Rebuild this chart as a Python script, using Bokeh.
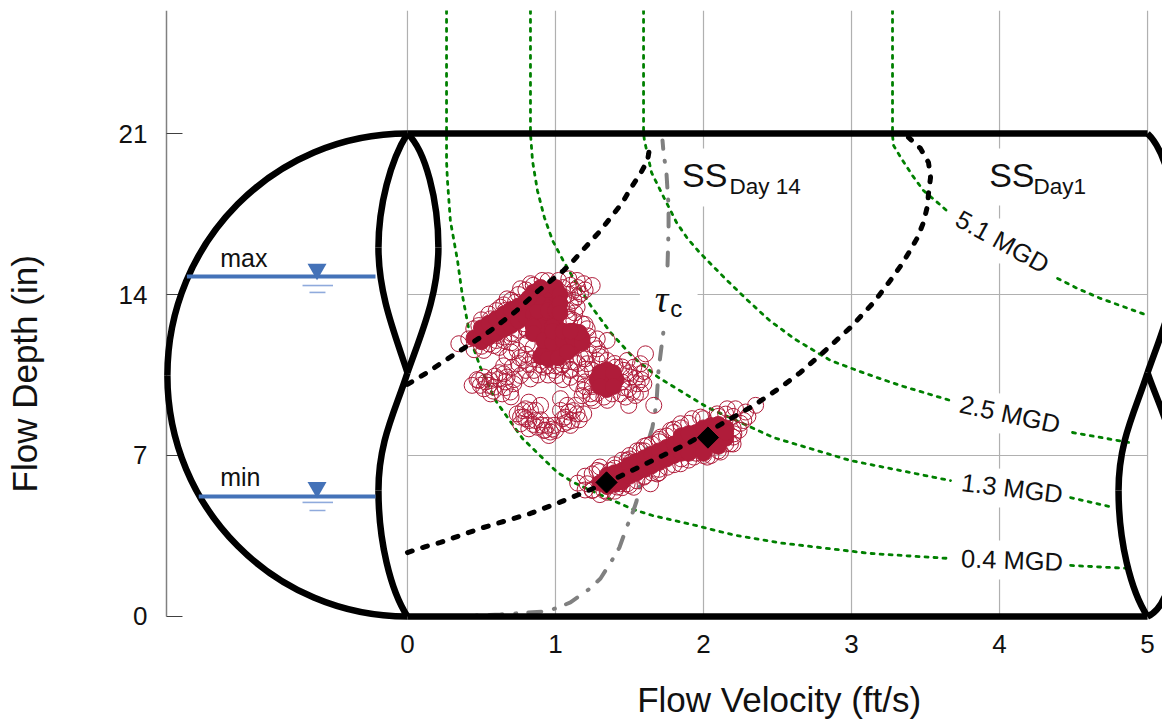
from bokeh.plotting import figure
from bokeh.embed import file_html
from bokeh.resources import INLINE
from bokeh.models import Range1d, FixedTicker, LinearAxis
from bokeh.core.properties import value
import math

FONT = "Liberation Sans"

x_ticks = [0, 1, 2, 3, 4, 5]
y_ticks = [0, 7, 14, 21]
x_lim = (-1.655, 5.101)
y_lim = (-0.174, 26.348)
axis_x = -1.628
tick_end_x = -1.52

# axis titles; the padding moves them from the frame centre to the centre of the 0-5 and 0-21 spans
x_title = "\u00a0" * 24 + "Flow Velocity (ft/s)"
y_title = "Flow Depth (in)" + "\u00a0" * 12

# vertical grid pieces (x, y from, y to): labels sit in the gaps
grid_v = [(0, 0, 26.35), (1, 0, 26.35), (2, 0, 17.83), (2, 20.35, 26.35), (3, 0, 26.35),
          (4, 0, 1.61), (4, 3.30, 4.74), (4, 6.43, 7.96), (4, 9.70, 15.35), (4, 17.30, 17.87), (4, 20.35, 26.35),
          (5, 0, 26.35)]
grid_h = [(0, 1.57, 14), (1.96, 5, 14), (0, 5, 7)]

# pipe outline: cubic segments (x0, y0, cx0, cy0, cx1, cy1, x1, y1)
pipe_outer = [
    (0, 21, -0.899, 21, -1.622, 16.3, -1.622, 10.48),
    (-1.622, 10.48, -1.622, 4.7, -0.899, 0, 0, 0),
]
lens_left_top = [
    (0.0, 21, -0.115, 19.83, -0.196, 17.87, -0.196, 16.04),
    (-0.196, 16.04, -0.196, 13.96, -0.081, 12.22, 0.0, 10.6),
]
lens_right_top = [
    (0.0, 21, 0.122, 20.26, 0.209, 18.09, 0.209, 16.04),
    (0.209, 16.04, 0.209, 13.96, 0.088, 12.22, 0.0, 10.6),
]
lens_left_bot = [
    (0.0, 10.6, -0.081, 8.96, -0.196, 7.65, -0.196, 5.48),
    (-0.196, 5.48, -0.196, 3.3, -0.115, 1.13, 0.0, 0),
]
lens_right_bot = [
    (0.0, 10.6, 0.088, 8.96, 0.209, 7.65, 0.209, 5.48),
    (0.209, 5.48, 0.209, 2.87, 0.169, 0.48, 0.0, 0),
]

water_levels = [14.78, 5.22]
water_x = (-1.49, -0.216)
water_left = [-1.49, -1.41]
water_mark_x = -0.611
water_mark_y = [15.1, 5.61]
sub1_y = [14.39, 4.96]
sub2_y = [14.09, 4.61]
sub1_x = (-0.709, -0.503)
sub2_x = (-0.662, -0.554)

day14 = [(0,10.09),(.135,10.61),(.223,11.0),(.378,11.65),(.561,12.43),(.73,13.26),(.885,14.17),(1.054,15.04),(1.122,15.48),(1.304,16.78),(1.453,18.0),(1.507,18.61),(1.574,19.26),(1.622,19.83),(1.642,20.61)]
day1 = [(0,2.78),(.122,3.04),(.223,3.22),(.493,3.83),(.831,4.48),(1.027,4.96),(1.223,5.48),(1.419,6.04),(1.696,6.91),(1.892,7.52),(2.162,8.52),(2.338,9.17),(2.52,9.96),(2.655,10.61),(2.824,11.57),(2.993,12.57),(3.149,13.65),(3.216,14.22),(3.277,14.74),(3.338,15.3),(3.392,15.87),(3.446,16.48),(3.486,17.13),(3.514,17.87),(3.52,18.39),(3.534,19.09),(3.52,19.74),(3.466,20.35),(3.385,20.83)]

mgd04 = [[(.264,26.35),(.264,21),(.264,19.8),(.27,18.96),(.29,17.2),(.338,15.48),(.37,14.0),(.412,12.57),(.45,11.6),(.493,10.83),(.595,9.39),(.777,7.74),(1.014,6.26),(1.122,5.83),(1.358,5.13),(1.527,4.65),(1.655,4.39),(1.946,3.96),(2.2,3.55),(2.52,3.2),(3.128,2.74),(3.669,2.52)],
         [(4.48,2.22),(4.872,2.09)]]
mgd13 = [[(.831,26.35),(.831,21),(.845,19.8),(.878,18.52),(.925,17.35),(.98,16.35),(1.05,15.5),(1.122,14.7),(1.24,13.5),(1.372,12.35),(1.52,11.3),(1.696,10.39),(2.027,9.09),(2.473,7.78),(2.993,6.78),(3.669,5.91)],
         [(4.48,5.17),(4.77,4.74)]]
mgd25 = [[(1.595,26.35),(1.595,21),(1.601,20.7),(1.649,19.3),(1.736,18.17),(1.818,17.13),(1.89,16.45),(1.973,15.83),(2.13,14.8),(2.284,13.83),(2.45,12.85),(2.62,12.05),(2.858,11.13),(3.1,10.55),(3.331,10.04),(3.669,9.39)],
         [(4.493,8.0),(4.872,7.57)]]
mgd51 = [[(3.277,26.35),(3.277,20.91),(3.284,20.48),(3.345,19.83),(3.412,19.17),(3.486,18.52),(3.588,17.96),(3.649,17.61)],
         [(4.392,14.7),(4.527,14.26),(4.682,13.83),(5.0,13.09)]]

tau_lower = [(.29,0),(.628,.09),(.932,.22),(1.0,.35),(1.101,.61),(1.223,1.17),(1.304,1.65),(1.385,2.48),(1.432,3.0),(1.486,3.96),(1.527,4.61),(1.547,5.0),(1.59,6.3),(1.628,7.65),(1.655,8.22),(1.682,9.26),(1.696,10.7),(1.73,12.43)]
tau_upper = [(1.757,15.26),(1.764,16.87),(1.764,17.87),(1.757,18.52),(1.75,19.26),(1.73,20.17),(1.723,20.7)]

core_points = [
    (.45,12.1),(.50,12.25),(.55,12.45),(.60,12.6),(.65,12.8),(.70,13.0),(.75,13.15),(.80,13.3),(.85,13.5),(.90,13.65),(.95,13.85),(1.0,14.0),
    (.5,12.55),(.55,12.75),(.6,12.95),(.65,13.15),(.7,13.35),(.75,13.5),(.8,13.7),(.85,13.9),
    (.5,11.95),(.55,12.15),(.6,12.3),(.65,12.5),(.7,12.65),(.75,12.85),(.8,13.0),(.85,13.15),
    (.88,12.9),(.95,12.9),(1.0,12.9),(.88,13.3),(.95,13.3),(1.0,13.3),(.88,13.9),(.95,14.2),(1.0,14.3),(.9,14.3),
    (.9,12.6),(.98,12.6),(.85,12.6),(.85,14.1),(.82,13.85),(1.03,14.0),(1.03,13.6),(1.03,13.2),(.85,12.3),(.9,11.3),
    (.92,11.5),(.92,12.0),(.98,11.4),(.98,11.9),(.98,12.4),(1.05,11.5),(1.05,12.0),(1.05,12.4),(1.12,11.7),(1.12,12.1),(1.12,12.4),(1.18,12.1),(1.18,11.9),
    (.95,11.2),(1.02,11.25),(1.08,11.5),(1.16,12.35),(1.1,12.4),
    (1.345,10.3),(1.28,10.3),(1.41,10.3),(1.345,10.73),(1.345,9.87),(1.30,10.6),(1.39,10.6),(1.30,10.0),(1.39,10.0),
    (1.30,5.8),(1.35,5.9),(1.40,6.0),(1.45,6.1),(1.5,6.35),(1.55,6.5),(1.6,6.65),(1.65,6.8),(1.7,6.95),(1.75,7.1),(1.8,7.25),(1.85,7.35),(1.9,7.5),(1.95,7.65),(2.0,7.8),(2.05,7.95),(2.1,8.1),(2.15,8.2),
    (1.35,6.15),(1.4,6.25),(1.45,6.35),(1.5,6.6),(1.55,6.75),(1.6,6.9),(1.65,7.05),(1.7,7.2),(1.75,7.35),(1.8,7.5),(1.85,7.6),
    (1.35,5.65),(1.4,5.75),(1.45,5.85),(1.5,6.1),(1.55,6.25),(1.6,6.4),(1.65,6.55),(1.7,6.7),(1.75,6.85),(1.8,7.0),(1.85,7.1),
    (1.95,7.3),(2.0,7.4),(2.05,7.5),(2.1,7.7),(2.12,7.95),(1.95,8.0),(2.0,8.2),(2.05,8.3),
    (1.85,7.85),(1.9,7.1),(2.0,7.1),(2.1,7.4),(2.15,7.75),(1.9,7.95),(2.1,8.35),(2.15,8.0),
]
open_points = [
    (.347,11.86),(.414,12.07),(.448,12.51),(.482,12.65),(.561,12.94),(.628,13.45),(.673,13.81),(.764,14.25),(.831,14.47),(.91,14.61),(1.02,14.61),(1.09,14.68),(1.146,14.61),(1.19,14.47),(1.248,14.39),
    (1.124,14.18),(1.169,14.03),(1.124,13.74),(1.146,13.45),(1.079,13.31),(1.09,13.02),(1.056,13.89),
    (.516,11.57),(.583,11.78),(.651,12.0),(.718,12.29),(.786,12.73),(.764,13.02),(.673,12.58),(.606,12.22),(.662,13.31),(.73,13.67),(.583,12.73),
    (.673,11.28),(.741,11.57),(.809,11.86),(.707,10.84),(.786,11.13),(.854,10.7),(.921,10.84),(.989,10.7),(.764,10.48),(.831,10.33),(.673,10.41),(.809,12.44),(.831,12.87),
    (.437,10.05),(.482,10.26),(.516,10.41),(.561,10.26),(.516,9.9),(.583,9.97),(.561,9.68),(.64,9.68),(.617,10.33),(.696,9.76),(.718,10.12),(.651,10.55),(.493,10.05),(.55,10.05),
    (.741,8.81),(.786,8.67),(.831,8.96),(.764,8.38),(.82,8.16),(.865,8.52),(.899,9.18),(.82,9.32),(.865,8.96),(.797,9.03),(.876,8.23),(.921,8.09),(.966,8.02),(1.0,8.09),(.944,8.31),(.989,8.31),(.91,8.31),(.82,8.52),(.764,8.67),(.955,7.87),
    (1.034,9.47),(1.079,9.18),(1.034,8.96),(1.067,8.67),(1.113,8.52),(1.146,8.81),(1.191,8.81),(1.09,8.89),(1.135,9.18),(1.056,8.38),(1.101,8.31),
    (1.191,9.83),(1.259,9.39),(1.327,9.54),(1.383,9.68),(1.236,9.68),(1.146,10.12),(1.169,10.55),(1.101,10.7),(1.214,10.99),(1.282,11.13),(1.349,11.13),(1.169,11.28),(1.282,11.64),(1.349,12.0),(1.282,12.07),(1.304,11.42),(1.034,10.84),(1.067,11.13),(1.011,10.48),(1.225,11.42),(1.124,11.06),(1.18,12.73),(1.124,12.87),(1.214,12.51),
    (1.608,11.42),(1.484,11.13),(1.529,10.84),(1.574,10.55),(1.597,10.12),(1.507,10.41),(1.552,10.12),(1.495,9.9),(1.574,9.75),(1.495,9.18),(1.664,9.18),(1.462,10.7),(1.45,10.19),(1.439,9.68),(1.473,9.54),(1.54,9.61),(1.405,10.84),(1.574,10.99),
    (1.248,6.2),(1.214,5.77),(1.281,6.35),(1.248,5.48),(1.327,5.48),(1.417,5.63),(1.484,5.77),(1.642,5.77),(1.597,6.06),(1.507,6.71),(1.574,7.22),(1.62,7.44),(1.687,6.2),(1.755,6.49),(1.777,8.09),(1.845,8.38),(1.923,8.6),(1.98,8.67),(2.092,8.81),(2.16,9.03),(2.216,9.03),(2.284,8.89),(2.352,9.18),(2.272,8.52),(2.205,7.94),(2.182,7.51),(2.115,7.15),(2.025,6.93),(1.935,6.93),(1.845,6.64),(1.71,7.8),(1.372,6.35),(1.484,6.78),(1.439,5.77),(1.529,5.62),
    (.5,12.9),(.55,13.15),(.6,13.3),(.65,13.55),(.7,13.75),(.75,14.0),(.8,14.2),(.85,14.4),(.95,14.6),
    (.45,11.6),(.5,11.75),(.55,11.85),(.6,12.0),(.65,12.15),(.7,12.3),(.75,12.45),(.8,12.55),
    (1.05,14.3),(1.1,14.4),(1.15,14.3),(1.08,14.0),(1.1,13.6),(1.08,13.0),
    (1.2,6.1),(1.3,6.5),(1.4,6.6),(1.45,6.8),(1.5,7.0),(1.55,7.2),(1.6,7.4),(1.65,7.5),(1.7,7.7),(1.75,7.85),(1.8,8.0),(1.85,8.2),(1.9,8.4),(2.0,8.6),(2.1,8.7),(2.15,8.8),(2.2,8.7),
    (1.25,5.5),(1.35,5.4),(1.45,5.6),(1.55,5.9),(1.6,6.1),(1.65,6.25),(1.7,6.4),(1.8,6.6),(1.9,6.8),(2.0,7.0),(2.1,7.2),(2.15,7.5),(2.2,7.8),(2.2,8.2),(2.25,8.4),
    (.75,11.0),(.8,11.4),(.85,11.2),(.7,11.5),(.85,11.7),(.95,10.9),(1.05,10.95),(1.15,11.0),(1.2,11.2),(1.1,10.4),(1.2,10.2),(1.25,10.0),(1.4,11.0),(1.25,10.7),(.65,10.9),(.62,10.6),(.8,10.7),(.72,10.3),(.88,10.5),(.95,10.5),(1.05,10.3),(1.18,9.6),(1.28,9.7),(1.35,9.4),
    (.62,11.7),(.7,11.9),(.76,11.25),(.82,10.95),(.9,10.95),(1.0,10.9),(1.1,10.75),(1.2,10.75),(1.3,11.3),(1.26,11.8),(1.22,12.2),(1.2,12.7),(1.13,13.2),(1.15,13.9),(1.2,14.2),
    (.47,10.3),(.53,10.2),(.59,10.45),(.66,10.2),(.58,9.8),(.66,9.95),(.7,9.55),
    (.78,8.95),(.8,8.6),(.85,8.35),(.9,8.55),(.93,8.1),(.98,8.15),(1.05,8.6),(1.08,8.45),(1.12,8.95),(1.16,8.55),
    (1.45,10.85),(1.5,10.6),(1.54,10.35),(1.58,10.3),(1.6,10.65),(1.52,9.75),(1.46,9.95),(1.2,10.0),(1.24,9.5),
    (1.15,5.8),(1.2,5.5),(1.3,5.3),(1.4,5.45),(1.5,5.7),(1.7,6.25),(1.85,6.85),(1.95,7.1),(2.05,7.0),(2.2,7.5),(2.24,8.1),(2.3,8.7),(1.8,8.15),(1.7,7.6),(1.6,7.2),(1.5,6.85),(1.4,6.45),(1.3,6.3),
]
diamond_x = [1.345, 2.03]
diamond_y = [5.83, 7.78]

RED = "#B01C3A"
GREEN = "#008000"
BLUE = "#4472B8"
LBLUE = "#8FAADC"
GRID = "#B0B0B0"
INK = "#111111"


def unzip(points):
    return [a for a, _ in points], [b for _, b in points]


p = figure(width=1162, height=725, x_range=Range1d(*x_lim), y_range=Range1d(*y_lim),
           output_backend="svg", toolbar_location=None, tools="",
           x_axis_type=None, y_axis_type=None, title=None,
           min_border_left=162, min_border_right=0, min_border_top=10, min_border_bottom=105,
           outline_line_color=None, background_fill_color="white", border_fill_color="white")

# grid lines start at velocity zero
p.segment([g[0] for g in grid_v], [g[1] for g in grid_v], [g[0] for g in grid_v], [g[2] for g in grid_v],
          line_color=GRID, line_width=1.2)
p.segment([g[0] for g in grid_h], [g[2] for g in grid_h], [g[1] for g in grid_h], [g[2] for g in grid_h],
          line_color=GRID, line_width=1.2)

xax = LinearAxis(ticker=FixedTicker(ticks=x_ticks), axis_label=x_title)
xax.axis_line_color = None
xax.major_tick_line_color = None
xax.minor_tick_line_color = None
xax.major_tick_out = 0
xax.major_tick_in = 0
xax.major_label_text_font = FONT
xax.major_label_text_font_size = "26px"
xax.major_label_text_color = INK
xax.major_label_standoff = 14
xax.axis_label_text_font = FONT
xax.axis_label_text_font_size = "35px"
xax.axis_label_text_font_style = "normal"
xax.axis_label_text_color = INK
xax.axis_label_standoff = 24
p.add_layout(xax, "below")

yax = LinearAxis(ticker=FixedTicker(ticks=y_ticks), axis_label=y_title)
yax.axis_line_color = None
yax.major_tick_line_color = None
yax.minor_tick_line_color = None
yax.major_tick_out = 0
yax.major_tick_in = 0
yax.major_label_text_font = FONT
yax.major_label_text_font_size = "26px"
yax.major_label_text_color = INK
yax.major_label_standoff = 15
yax.axis_label_text_font = FONT
yax.axis_label_text_font_size = "35px"
yax.axis_label_text_font_style = "normal"
yax.axis_label_text_color = INK
yax.axis_label_standoff = 72
p.add_layout(yax, "left")

# left axis rule and inward ticks
p.segment([axis_x], [0], [axis_x], [y_lim[1]], line_color="#808080", line_width=1.5)
p.segment([axis_x] * len(y_ticks), y_ticks, [tick_end_x] * len(y_ticks), y_ticks, line_color="#404040", line_width=1.2)

# flow contours
for curve in (mgd04, mgd13, mgd25, mgd51):
    for part in curve:
        xs, ys = unzip(part)
        p.line(xs, ys, line_color=GREEN, line_width=2.8, line_dash="3 6", line_cap="round")

# critical shear
for part in (tau_lower, tau_upper):
    xs, ys = unzip(part)
    p.line(xs, ys, line_color="#808080", line_width=4, line_dash="13 13 1 12", line_cap="round")


def draw_bez(segs, dx=0.0, width=6.5):
    p.bezier([s[0] + dx for s in segs], [s[1] for s in segs],
             [s[6] + dx for s in segs], [s[7] for s in segs],
             [s[2] + dx for s in segs], [s[3] for s in segs],
             [s[4] + dx for s in segs], [s[5] for s in segs],
             line_color="black", line_width=width)


# pipe
p.segment([0, 0], [21, 0], [5, 5], [21, 0], line_color="black", line_width=6.5)
draw_bez(pipe_outer)
draw_bez(lens_left_top)
draw_bez(lens_right_top)
draw_bez(lens_left_bot)
draw_bez(lens_left_bot, dx=5)
draw_bez(lens_right_top, dx=5)
draw_bez(lens_right_bot, dx=5)

# water levels
for lvl, left, my, s1, s2 in zip(water_levels, water_left, water_mark_y, sub1_y, sub2_y):
    p.segment([left], [lvl], [water_x[1]], [lvl], line_color=BLUE, line_width=4)
    p.scatter([water_mark_x], [my], marker="inverted_triangle", size=19, fill_color=BLUE, line_color=None)
    p.segment([sub1_x[0]], [s1], [sub1_x[1]], [s1], line_color=LBLUE, line_width=1.6)
    p.segment([sub2_x[0]], [s2], [sub2_x[1]], [s2], line_color=LBLUE, line_width=1.6)

# observations
xs, ys = unzip(open_points)
p.scatter(xs, ys, marker="circle", size=16, fill_color=None, line_color=RED, line_width=1)
xs, ys = unzip(core_points)
p.scatter(xs, ys, marker="circle", size=16, fill_color=RED, line_color=RED, line_width=1)

# stage-velocity curves
for curve in (day14, day1):
    xs, ys = unzip(curve)
    p.line(xs, ys, line_color="black", line_width=5, line_dash="5 11", line_cap="round")
p.scatter(diamond_x, diamond_y, marker="square", size=15, angle=math.pi / 4, fill_color="black", line_color="black")


def txt(x, y, s, size, angle=0.0, font=FONT, style="normal", align="left"):
    p.text([x], [y], text=[s], text_font=value(font), text_font_size=f"{size}px", text_font_style=style,
           text_color=INK, angle=math.radians(angle), text_align=align, text_baseline="middle")


txt(-1.265, 15.6, "max", 25)
txt(-1.265, 6.08, "min", 25)
txt(1.855, 19.18, "SS", 34)
txt(2.175, 18.7, "Day 14", 22.5)
txt(3.93, 19.18, "SS", 34)
txt(4.23, 18.7, "Day1", 22.5)
txt(4.02, 16.3, "5.1 MGD", 25.5, angle=-29, align="center")
txt(4.07, 8.8, "2.5 MGD", 25.5, angle=-12, align="center")
txt(4.085, 5.58, "1.3 MGD", 25.5, angle=-7, align="center")
txt(4.085, 2.45, "0.4 MGD", 25.5, angle=-2, align="center")
txt(1.67, 13.8, "τ", 38, font="Liberation Serif", style="italic")
txt(1.775, 13.4, "c", 24)

open("out.html", "w").write(file_html(p, INLINE))
